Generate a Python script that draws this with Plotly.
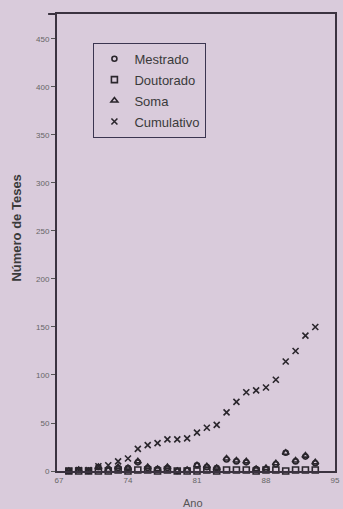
import plotly.graph_objects as go

# Teses defendidas por ano (1968-1993)
anos = list(range(68, 94))
mestrado = [0, 1, 0, 4, 1, 3, 3, 9, 3, 2, 3, 0, 1, 6, 4, 3, 12, 10, 9, 2, 2, 7, 19, 10, 15, 8]
doutorado = [0, 0, 0, 0, 0, 1, 0, 1, 1, 0, 1, 0, 0, 0, 1, 0, 1, 1, 1, 0, 1, 1, 0, 1, 1, 1]
soma = [0, 1, 0, 4, 1, 4, 3, 10, 4, 2, 4, 0, 1, 6, 5, 3, 13, 11, 10, 2, 3, 8, 19, 11, 16, 9]
cumulativo = [0, 1, 1, 5, 6, 10, 13, 23, 27, 29, 33, 33, 34, 40, 45, 48, 61, 72, 82, 84, 87,
              95, 114, 125, 141, 150]

x_ticks = [67, 74, 81, 88, 95]
y_ticks = [0, 50, 100, 150, 200, 250, 300, 350, 400, 450]

BG = "#d9cbdb"
INK = "#2a262c"
FONT = "Liberation Sans, Arial, sans-serif"

series = [
    ("Mestrado", mestrado, "circle-open", 5),
    ("Doutorado", doutorado, "square-open", 6),
    ("Soma", soma, "triangle-up-open", 6),
    ("Cumulativo", cumulativo, "x-thin-open", 6),
]

fig = go.Figure()
for i, (nome, valores, simbolo, tam) in enumerate(series):
    fig.add_trace(go.Scatter(
        x=anos, y=valores, name=nome, mode="markers",
        legendgroup=f"g{i}",
        marker=dict(symbol=simbolo, size=tam, color=INK,
                    line=dict(color=INK, width=1.6)),
        cliponaxis=False,
    ))

fig.update_layout(
    width=343, height=509,
    margin=dict(l=57, r=3, t=14, b=38),
    paper_bgcolor=BG, plot_bgcolor=BG,
    font=dict(family=FONT, color="#555"),
    showlegend=True,
    legend=dict(
        x=0.131, y=0.937, xanchor="left", yanchor="top",
        bgcolor="rgba(0,0,0,0)", bordercolor="#3b3550", borderwidth=1,
        font=dict(family=FONT, size=13, color="#3a3a3a"),
        traceorder="grouped", tracegroupgap=1,
    ),
    xaxis=dict(
        range=[66.8, 95], tickvals=x_ticks, ticktext=[str(v) for v in x_ticks],
        showgrid=False, zeroline=False, showline=True, mirror=True,
        linecolor="#3b3340", linewidth=2, ticks="",
        tickfont=dict(size=8, color="#666"),
    ),
    yaxis=dict(
        range=[0, 476], tickvals=y_ticks,
        showgrid=False, zeroline=False, showline=True, mirror=True,
        linecolor="#3b3340", linewidth=2, ticks="outside", ticklen=4,
        tickcolor="#555", tickwidth=1,
        tickfont=dict(size=8, color="#666"),
    ),
    annotations=[
        dict(text="<b>Número de Teses</b>", textangle=-90, x=-0.145, y=0.532,
             xref="paper", yref="paper", xanchor="center", yanchor="middle",
             showarrow=False, font=dict(family=FONT, size=13, color="#3a3a3a")),
        dict(text="Ano", x=0.488, y=-0.070, xref="paper", yref="paper",
             xanchor="center", yanchor="middle",
             showarrow=False, font=dict(family=FONT, size=11, color="#555")),
    ],
)

# the top frame line runs slightly past the left axis
fig.add_shape(type="line", xref="paper", yref="paper", x0=-0.032, x1=0, y0=1, y1=1,
              line=dict(color="#3b3340", width=2))

fig.write_html("out.html")
